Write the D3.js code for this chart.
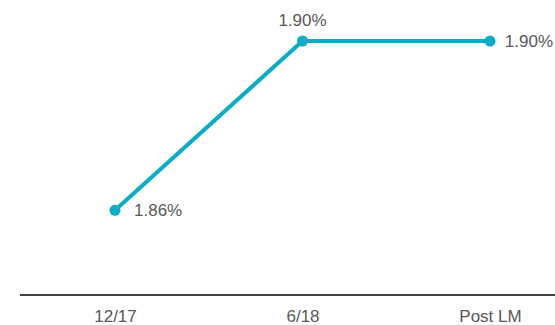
<!DOCTYPE html>
<html>
<head>
<meta charset="utf-8">
<script src="https://cdn.jsdelivr.net/npm/d3@7"></script>
<style>
  html, body { margin: 0; padding: 0; background: #fff; }
  svg { display: block; }
  text { font-family: "Liberation Sans", Arial, sans-serif; }
</style>
</head>
<body>
<svg id="chart" width="555" height="325"></svg>
<script>
// Periods on the x axis
const categories = ["12/17", "6/18", "Post LM"];
// Rate in percent for each period
const values = [1.86, 1.90, 1.90];
// Where each value label sits relative to its point
const labelPositions = ["right", "top", "right"];

const width = 555, height = 325;
const svg = d3.select("#chart");

const x = d3.scalePoint().domain(categories).range([115, 490]);
const y = d3.scaleLinear().domain([1.84, 1.90]).range([295, 41]);

const lineColor = "#0AADC7";
const textColor = "#595959";

// Category axis: baseline rule and labels, no ticks
const axis = d3.axisBottom(x).tickSize(0).tickPadding(15);
const gAxis = svg.append("g").attr("transform", `translate(0,${y(1.84)})`).call(axis);
gAxis.select(".domain").remove();
gAxis.selectAll("text")
  .attr("font-size", 17)
  .attr("fill", textColor)
  .attr("font-family", "Liberation Sans, Arial, sans-serif");
svg.append("line")
  .attr("x1", 20).attr("x2", width)
  .attr("y1", y(1.84)).attr("y2", y(1.84))
  .attr("stroke", "#404040").attr("stroke-width", 2);

const data = categories.map((c, i) => ({ c, v: values[i], pos: labelPositions[i] }));

// Series line
svg.append("path")
  .datum(data)
  .attr("fill", "none")
  .attr("stroke", lineColor)
  .attr("stroke-width", 4)
  .attr("stroke-linejoin", "round")
  .attr("d", d3.line().x(d => x(d.c)).y(d => y(d.v)));

// Markers
svg.selectAll("circle.pt")
  .data(data)
  .join("circle")
  .attr("class", "pt")
  .attr("cx", d => x(d.c))
  .attr("cy", d => y(d.v))
  .attr("r", 5.5)
  .attr("fill", lineColor);

// Value labels; right-hand labels are kept inside the chart edge
svg.selectAll("text.lbl")
  .data(data)
  .join("text")
  .attr("class", "lbl")
  .attr("y", d => d.pos === "right" ? y(d.v) + 6 : y(d.v) - 15)
  .attr("text-anchor", d => d.pos === "right" ? "start" : "middle")
  .attr("font-size", 17)
  .attr("fill", textColor)
  .text(d => d.v.toFixed(2) + "%")
  .attr("x", function (d) {
    if (d.pos !== "right") return x(d.c);
    const w = this.getComputedTextLength();
    return Math.min(x(d.c) + 19, width - 2 - w);
  });
</script>
</body>
</html>
